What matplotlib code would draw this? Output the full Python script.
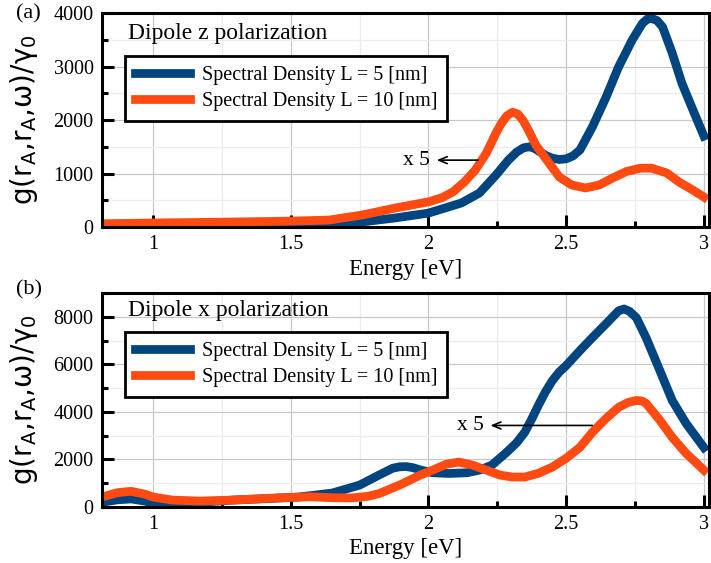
import matplotlib
matplotlib.use("Agg")
import matplotlib.pyplot as plt
from matplotlib.ticker import MultipleLocator, FormatStrFormatter

plt.rcParams['font.family'] = ['Liberation Serif', 'DejaVu Serif']
plt.rcParams['mathtext.fontset'] = 'dejavusans'

# (a) dipole z polarization
energy_z5 = [0.815, 1.0, 1.25, 1.5, 1.64, 1.76, 1.88, 2.0, 2.12, 2.185, 2.245, 2.29,
             2.32, 2.345, 2.367, 2.385, 2.40, 2.425, 2.45, 2.475, 2.50, 2.525, 2.55,
             2.595, 2.645, 2.69, 2.74, 2.777, 2.795, 2.81, 2.83, 2.85, 2.885, 2.92,
             2.96, 3.0]
dens_z5 = [50, 55, 62, 70, 75, 95, 170, 260, 450, 635, 970, 1250,
           1400, 1480, 1500, 1470, 1420, 1340, 1285, 1262, 1275, 1330, 1440,
           1870, 2430, 2990, 3500, 3810, 3890, 3900, 3860, 3740, 3250, 2690,
           2190, 1700]

energy_z10 = [0.815, 1.0, 1.25, 1.5, 1.64, 1.76, 1.88, 2.0, 2.05, 2.09, 2.13, 2.17,
              2.21, 2.245, 2.265, 2.285, 2.305, 2.325, 2.345, 2.365, 2.39, 2.43,
              2.475, 2.52, 2.57, 2.62, 2.67, 2.72, 2.77, 2.81, 2.865, 2.91, 2.96, 3.0]
dens_z10 = [60, 75, 90, 110, 130, 225, 355, 470, 550, 660, 840, 1065,
            1380, 1755, 1940, 2080, 2145, 2110, 1980, 1790, 1530, 1250,
            935, 785, 730, 785, 920, 1040, 1100, 1100, 1010, 840, 690, 560]

# (b) dipole x polarization
energy_x5 = [0.815, 0.87, 0.92, 0.97, 1.0, 1.05, 1.15, 1.29, 1.41, 1.53, 1.65, 1.75,
             1.82, 1.87, 1.895, 1.92, 1.945, 1.97, 2.015, 2.075, 2.14, 2.185, 2.23,
             2.28, 2.32, 2.35, 2.375, 2.40, 2.425, 2.45, 2.475, 2.50, 2.55, 2.595,
             2.645, 2.69, 2.71, 2.73, 2.755, 2.79, 2.84, 2.885, 2.935, 3.0]
dens_x5 = [200, 300, 340, 250, 150, 120, 180, 290, 350, 420, 585, 920,
           1340, 1630, 1690, 1700, 1650, 1560, 1440, 1410, 1440, 1550, 1760,
           2260, 2700, 3150, 3700, 4300, 4850, 5320, 5680, 5950, 6580, 7125,
           7710, 8250, 8330, 8230, 7960, 7125, 5740, 4480, 3520, 2500]

energy_x10 = [0.815, 0.87, 0.92, 0.97, 1.0, 1.07, 1.17, 1.29, 1.41, 1.5, 1.57, 1.65,
              1.72, 1.78, 1.82, 1.895, 1.97, 2.015, 2.065, 2.11, 2.16, 2.21, 2.26,
              2.305, 2.35, 2.40, 2.45, 2.50, 2.55, 2.595, 2.645, 2.69, 2.725, 2.755,
              2.775, 2.79, 2.84, 2.885, 2.935, 3.0]
dens_x10 = [420, 600, 660, 540, 420, 290, 250, 290, 360, 400, 430, 390,
            380, 450, 560, 920, 1340, 1550, 1800, 1890, 1760, 1550, 1340,
            1260, 1260, 1420, 1680, 2050, 2510, 3140, 3730, 4190, 4400, 4480,
            4460, 4360, 3650, 2930, 2260, 1550]

labels = ["Spectral Density L = 5 [nm]", "Spectral Density L = 10 [nm]"]
blue = '#00457f'
orange = '#ff4a12'
ylab = r'$\mathrm{g(r_A{,}r_A{,}\omega)/\gamma_0}$'


def style_axis(ax, ymax, ymajor):
    ax.set_xlim(0.815, 3.018)
    ax.set_ylim(0, ymax)
    ax.xaxis.set_major_locator(MultipleLocator(0.5))
    ax.xaxis.set_minor_locator(MultipleLocator(0.25))
    ax.yaxis.set_major_locator(MultipleLocator(ymajor))
    ax.yaxis.set_minor_locator(MultipleLocator(ymajor / 2))
    ax.xaxis.set_major_formatter(FormatStrFormatter('%g'))
    ax.grid(which='major', color='#c8c8c8', lw=0.9)
    ax.grid(which='minor', color='#ececec', lw=0.9)
    ax.tick_params(which='both', direction='in', top=False, right=False,
                   width=2.2, labelsize=14.5)
    ax.tick_params(which='major', length=8.5, pad=6)
    ax.tick_params(which='minor', length=4.5)
    for s in ax.spines.values():
        s.set_linewidth(2.2)
    ax.set_xlabel('Energy [eV]', fontsize=16.5, labelpad=3)
    ax.set_ylabel(ylab, fontsize=20)
    ax.yaxis.set_label_coords(-0.103, 0.5)


def add_legend(ax, top):
    leg = ax.legend(loc='upper left', bbox_to_anchor=(0.038, top), fontsize=14.5,
                    fancybox=False, framealpha=1, edgecolor='black',
                    handlelength=2.7, handletextpad=0.6, labelspacing=0.35,
                    borderpad=0.5, borderaxespad=0)
    leg.get_frame().set_linewidth(2)


fig = plt.figure(figsize=(7.11, 5.63), dpi=100)
ax1 = fig.add_axes([0.1435, 0.5968, 0.8535, 0.380])
ax2 = fig.add_axes([0.1435, 0.0995, 0.8535, 0.380])

ax1.plot(energy_z5, dens_z5, color=blue, lw=6.3, label=labels[0],
         solid_joinstyle='round')
ax1.plot(energy_z10, dens_z10, color=orange, lw=6.3, label=labels[1],
         solid_joinstyle='round')
style_axis(ax1, 4000, 1000)
ax1.text(0.043, 0.905, 'Dipole z polarization', transform=ax1.transAxes,
         fontsize=17, va='center')
ax1.annotate('', xy=(2.02, 1250), xytext=(2.19, 1250),
             arrowprops=dict(arrowstyle='->,head_length=0.6,head_width=0.25', lw=1.2))
ax1.text(2.005, 1250, 'x 5', ha='right', va='center', fontsize=15.5)
add_legend(ax1, 0.80)

ax2.plot(energy_x5, dens_x5, color=blue, lw=6.3, label=labels[0],
         solid_joinstyle='round')
ax2.plot(energy_x10, dens_x10, color=orange, lw=6.3, label=labels[1],
         solid_joinstyle='round')
style_axis(ax2, 9000, 2000)
ax2.text(0.043, 0.92, 'Dipole x polarization', transform=ax2.transAxes,
         fontsize=17, va='center')
ax2.annotate('', xy=(2.215, 3430), xytext=(2.605, 3430),
             arrowprops=dict(arrowstyle='->,head_length=0.6,head_width=0.25', lw=1.2))
ax2.text(2.2, 3430, 'x 5', ha='right', va='center', fontsize=15.5)
add_legend(ax2, 0.818)

fig.text(0.023, 0.975, '(a)', fontsize=16, va='center')
fig.text(0.023, 0.485, '(b)', fontsize=16, va='center')

fig.savefig('out.png', dpi=100)
